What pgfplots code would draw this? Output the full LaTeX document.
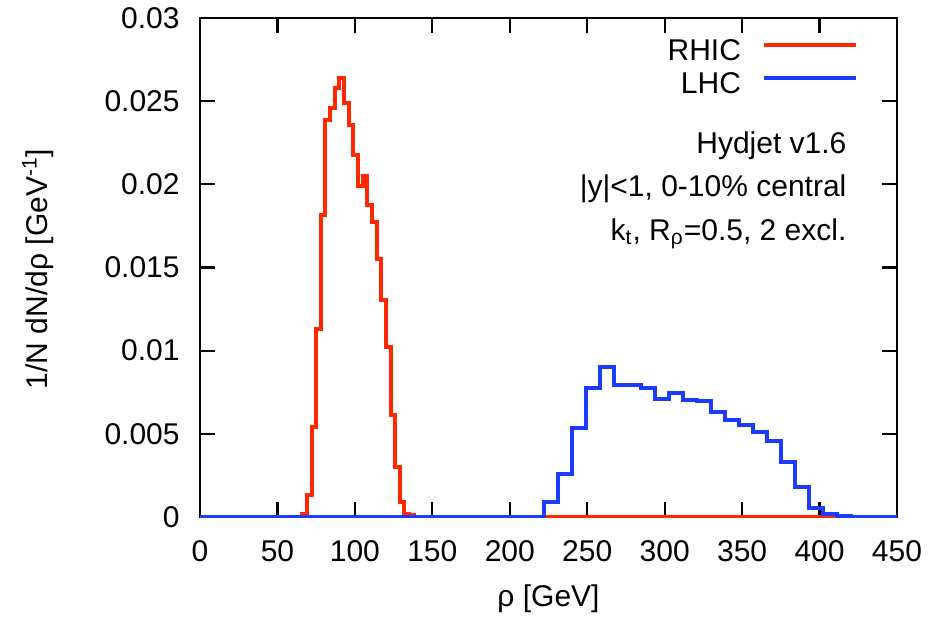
\documentclass[border=0pt]{standalone}
\usepackage{fontspec}
\setmainfont{Liberation Sans}
\usepackage{pgfplots}
\pgfplotsset{compat=1.18}
\definecolor{rhic}{RGB}{255,40,0}
\definecolor{lhc}{RGB}{25,60,255}
\newcommand{\fs}{\fontsize{15}{18}\selectfont}
\begin{document}
\begin{tikzpicture}
\begin{axis}[
  scale only axis, width=348.5pt, height=249.5pt,
  xmin=0, xmax=450, ymin=0, ymax=0.03,
  axis line style={line width=1.2pt},
  every tick/.style={black, line width=1.1pt},
  major tick length=7.5pt,
  tick align=inside,
  xtick={0,50,...,450},
  ytick={0,0.005,0.01,0.015,0.02,0.025,0.03},
  yticklabels={0,0.005,0.01,0.015,0.02,0.025,0.03},
  scaled y ticks=false,
  /pgf/number format/assume math mode=true,
  xticklabel style={font=\fs, anchor=base, inner sep=0pt, yshift=-22pt},
  yticklabel style={font=\fs, anchor=east, inner sep=0pt, xshift=-10pt},
  xlabel={ρ [GeV]},
  ylabel={1/N dN/dρ [GeV\textsuperscript{-1}]},
  xlabel style={font=\fs, at={(axis description cs:0.5,-0.180)}, anchor=base},
  ylabel style={font=\fs, at={(axis description cs:-0.2195,0.497)}, anchor=base, rotate=0},
  const plot mark left, no marks,
  legend plot pos=right,
  legend cell align=right,
  legend image code/.code={\draw[#1, line width=2pt] (0pt,0.36em) -- (46pt,0.36em);},
  legend style={draw=none, fill=none, inner sep=0pt, outer sep=0pt,
    at={(axis description cs:0.944,0.956)}, anchor=north east,
    font=\fs, row sep=4.5pt, column sep=0pt,
    nodes={inner sep=0pt, outer sep=0pt},
    /tikz/every odd column/.style={column sep=10.5pt}},
]
\addplot[rhic, line width=2pt] coordinates {
(0,0) (63,0) (66,0.0002) (69,0.00132) (72,0.00543) (75,0.01128) (78,0.01816)
(81,0.02387) (84,0.02461) (87,0.02577) (90,0.02637) (93,0.02487) (96,0.02357)
(99,0.02176) (102,0.0199) (105,0.02052) (108,0.01876) (111,0.01775) (114,0.01551)
(117,0.01305) (120,0.01024) (123,0.00613) (126,0.00302) (129,0.00092) (132,0.0002)
(135,0.0001) (138,0) (450,0)
};
\addlegendentry{RHIC}
\addplot[lhc, line width=2pt] coordinates {
(0,0) (213,0) (222,0.00092) (231,0.00257) (240,0.00537) (249,0.00774) (258,0.00904)
(267,0.00794) (276,0.00792) (285,0.00777) (294,0.00708) (303,0.00747) (312,0.00702)
(321,0.00695) (330,0.00633) (339,0.00583) (348,0.00553) (357,0.00513) (366,0.00457)
(375,0.00333) (384,0.00178) (393,0.00056) (402,0.00018) (411,0.00005) (420,0) (450,0)
};
\addlegendentry{LHC}
\node[font=\fs, anchor=base east, inner sep=0pt] at (rel axis cs:0.928,0.729) {Hydjet v1.6};
\node[font=\fs, anchor=base east, inner sep=0pt] at (rel axis cs:0.928,0.642) {|y|<1, 0-10\% central};
\node[font=\fs, anchor=base east, inner sep=0pt] at (rel axis cs:0.928,0.555) {k\textsubscript{t}, R\textsubscript{ρ}=0.5, 2 excl.};
\end{axis}
\pgfresetboundingbox
\path[use as bounding box] ([shift={(-100pt,-49.5pt)}]current axis.south west) rectangle ([shift={(16.5pt,9pt)}]current axis.north east);
\end{tikzpicture}
\end{document}
